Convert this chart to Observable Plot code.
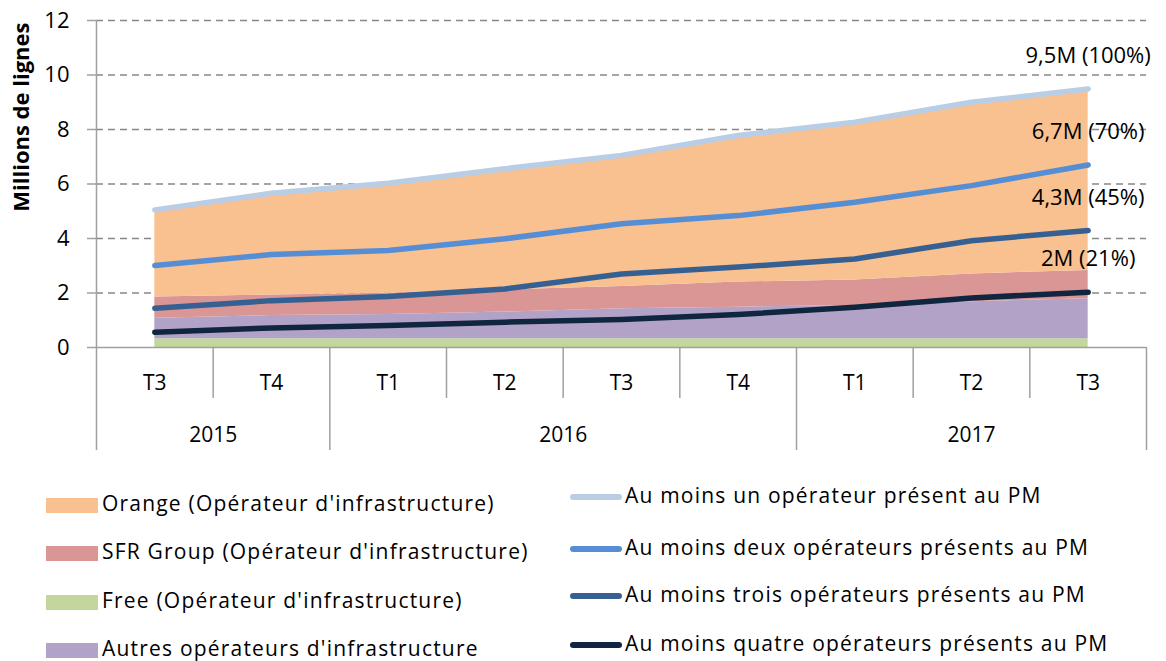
<!DOCTYPE html>
<html><head><meta charset="utf-8">
<script src="https://cdn.jsdelivr.net/npm/d3@7"></script>
<script src="https://cdn.jsdelivr.net/npm/@observablehq/plot@0.6"></script>
<style>
body{margin:0;background:#fff;font-family:"Open Sans",sans-serif;}
#wrap{position:relative;width:1166px;height:661px;overflow:hidden;}
.leg{position:absolute;font-size:21px;letter-spacing:1.2px;color:#000;white-space:nowrap;line-height:1;}
.sw{position:absolute;}
</style></head><body><div id="wrap"></div>
<script>
// ---- data (millions de lignes) ----
const quarters = ["T3","T4","T1","T2","T3","T4","T1","T2","T3"];
const years = ["2015","2016","2017"];
const quartersPerYear = [2, 4, 3];
const yTicks = [0, 2, 4, 6, 8, 10, 12];

const areaNames = ["Free (Opérateur d'infrastructure)", "Autres opérateurs d'infrastructure", "SFR Group (Opérateur d'infrastructure)", "Orange (Opérateur d'infrastructure)"];
const areaColors = ["#C3D69B", "#B3A2C7", "#D99694", "#F9C090"];
const free   = [0.32, 0.32, 0.32, 0.32, 0.32, 0.32, 0.32, 0.32, 0.32];
const autres = [0.75, 0.85, 0.89, 0.98, 1.10, 1.16, 1.22, 1.36, 1.47];
const sfr    = [0.78, 0.76, 0.78, 0.82, 0.82, 0.92, 0.94, 1.02, 1.04];
const orange = [3.20, 3.73, 4.04, 4.44, 4.81, 5.38, 5.79, 6.30, 6.66];

const lineNames = ["Au moins un opérateur présent au PM", "Au moins deux opérateurs présents au PM", "Au moins trois opérateurs présents au PM", "Au moins quatre opérateurs présents au PM"];
const lineColors = ["#B9CDE5", "#558ED5", "#376092", "#10253F"];
const un     = [5.05, 5.66, 6.03, 6.56, 7.05, 7.78, 8.27, 9.00, 9.49];
const deux   = [3.01, 3.41, 3.56, 3.99, 4.54, 4.84, 5.33, 5.94, 6.70];
const trois  = [1.44, 1.72, 1.87, 2.15, 2.70, 2.95, 3.25, 3.92, 4.29];
const quatre = [0.56, 0.72, 0.81, 0.93, 1.03, 1.21, 1.48, 1.82, 2.03];
const endLabels = ["9,5M (100%)", "6,7M (70%)", "4,3M (45%)", "2M (21%)"];

// ---- build tables ----
const areaSeries = [free, autres, sfr, orange];
const areaRows = areaSeries.flatMap((s, k) => s.map((v, i) => ({i, value: v, series: areaNames[k]})));
const lineSeries = [un, deux, trois, quatre];
const lineRows = lineSeries.flatMap((s, k) => s.map((v, i) => ({i, value: v, series: lineNames[k]})));
const labelRows = lineSeries.map((s, k) => ({i: s.length - 1, value: s[s.length - 1], text: endLabels[k]}));

// category axis structure
const qIdx = quarters.map((q, i) => i);
const qBounds = [];
const yBounds = [];
const yearCenters = [];
let start = -0.5;
quartersPerYear.forEach((n, k) => {
  for (let j = 1; j < n; j++) qBounds.push(start + j);
  yBounds.push(start + n);
  yearCenters.push({x: start + n / 2, year: years[k]});
  start += n;
});

const W = 1166, H = 470, mL = 96, mR = 20, mT = 20, mB = 123;
const pxPerUnit = (H - mT - mB) / 12;
const qDepth = -51 / pxPerUnit;   // quarter separators extend below axis
const yDepth = -103 / pxPerUnit;  // year separators extend further

const axisGray = "#A0A0A0";

const chart = Plot.plot({
  width: W, height: H,
  marginLeft: mL, marginRight: mR, marginTop: mT, marginBottom: mB,
  style: {fontFamily: "'Open Sans', sans-serif", background: "#fff", overflow: "visible"},
  x: {type: "linear", domain: [-0.5, quarters.length - 0.5], axis: null},
  y: {domain: [0, 12], axis: null},
  color: {domain: [...areaNames, ...lineNames], range: [...areaColors, ...lineColors]},
  marks: [
    Plot.ruleY(yTicks.filter(d => d > 0), {stroke: "#888", strokeDasharray: "7,5", strokeWidth: 1.5}),
    Plot.areaY(areaRows, {x: "i", y: "value", fill: "series", curve: "linear"}),
    Plot.line(lineRows, {x: "i", y: "value", stroke: "series", strokeWidth: 5.5, strokeLinecap: "round", strokeLinejoin: "round"}),
    Plot.text(labelRows, {x: "i", y: "value", text: "text", dy: -33, fontSize: 22, fill: "#000", style: "letter-spacing:1.1px"}),
    // axes lines
    Plot.ruleY([0], {stroke: axisGray, strokeWidth: 1.5}),
    Plot.ruleX([-0.5], {y1: 12, y2: yDepth, stroke: axisGray, strokeWidth: 1.5}),
    Plot.ruleX(qBounds, {x: d => d, y1: 0, y2: qDepth, stroke: axisGray, strokeWidth: 1.5}),
    Plot.ruleX(yBounds, {x: d => d, y1: 0, y2: yDepth, stroke: axisGray, strokeWidth: 1.5}),
    Plot.axisY({ticks: yTicks, label: null, tickSize: 9, tickPadding: 18, fontSize: 22, stroke: axisGray, fill: "#000", strokeWidth: 1.5}),
    Plot.text(qIdx, {x: d => d, y: 0, text: d => quarters[d], dy: 36, fontSize: 21, fill: "#000"}),
    Plot.text(yearCenters, {x: "x", y: 0, text: "year", dy: 88, fontSize: 21, fill: "#000", style: "letter-spacing:0.6px"}),
    Plot.text(["Millions de lignes"], {frameAnchor: "top-left", dx: -83, dy: 2, rotate: -90, textAnchor: "end", fontSize: 22, fontWeight: "bold", fill: "#000"})
  ]
});

const wrap = document.getElementById("wrap");
wrap.appendChild(chart);

// ---- legend (below the SVG) ----
const leftRows = [
  {name: areaNames[3], color: areaColors[3], y: 505},
  {name: areaNames[2], color: areaColors[2], y: 553},
  {name: areaNames[0], color: areaColors[0], y: 602},
  {name: areaNames[1], color: areaColors[1], y: 650}
];
const rightRows = [
  {name: lineNames[0], color: lineColors[0], y: 497},
  {name: lineNames[1], color: lineColors[1], y: 549},
  {name: lineNames[2], color: lineColors[2], y: 596},
  {name: lineNames[3], color: lineColors[3], y: 645}
];
leftRows.forEach(r => {
  const s = document.createElement("div");
  s.className = "sw";
  Object.assign(s.style, {left: "46px", top: (r.y - 7.5) + "px", width: "52px", height: "15px", background: r.color});
  wrap.appendChild(s);
  const t = document.createElement("div");
  t.className = "leg";
  t.textContent = r.name;
  Object.assign(t.style, {left: "102px", top: (r.y - 12) + "px"});
  wrap.appendChild(t);
});
rightRows.forEach(r => {
  const s = document.createElement("div");
  s.className = "sw";
  Object.assign(s.style, {left: "570px", top: (r.y - 3) + "px", width: "52px", height: "6px", background: r.color, borderRadius: "3px"});
  wrap.appendChild(s);
  const t = document.createElement("div");
  t.className = "leg";
  t.textContent = r.name;
  Object.assign(t.style, {left: "625px", top: (r.y - 12) + "px"});
  wrap.appendChild(t);
});
</script>
</body></html>
